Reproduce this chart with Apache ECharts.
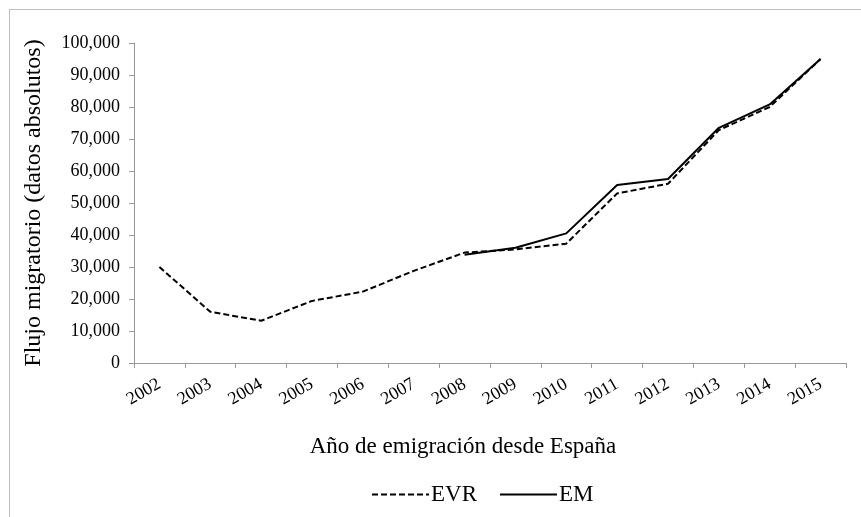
<!DOCTYPE html>
<html>
<head>
<meta charset="utf-8">
<script src="https://cdn.jsdelivr.net/npm/echarts@6/dist/echarts.min.js"></script>
<style>
html,body{margin:0;padding:0;background:#fff;}
#chart{width:861px;height:517px;}
</style>
</head>
<body>
<div id="chart"></div>
<script>
var years = ['2002','2003','2004','2005','2006','2007','2008','2009','2010','2011','2012','2013','2014','2015'];
var evr = [30000, 16000, 13200, 19400, 22300, 28800, 34500, 35500, 37300, 53000, 56000, 72800, 80000, 95000];
var em = [null, null, null, null, null, null, 33800, 36000, 40500, 55600, 57500, 73500, 80800, 95000];
var seriesNames = ['EVR', 'EM'];
var yTitle = 'Flujo migratorio (datos absolutos)';
var xTitle = 'Año de emigración desde España';

var font = 'Liberation Serif';
var chart = echarts.init(document.getElementById('chart'));
chart.setOption({
  backgroundColor: '#fff',
  animation: false,
  textStyle: {fontFamily: font, color: '#000'},
  graphic: [
    {type: 'line', shape: {x1: 9, y1: 9.5, x2: 861, y2: 9.5}, style: {stroke: '#bdbdbd', lineWidth: 1}},
    {type: 'line', shape: {x1: 9.5, y1: 9, x2: 9.5, y2: 517}, style: {stroke: '#bdbdbd', lineWidth: 1}}
  ],
  grid: {left: 134, right: 15, top: 43, bottom: 154, containLabel: false},
  legend: {
    data: seriesNames,
    top: 478,
    left: 366,
    itemWidth: 57,
    itemHeight: 14,
    itemGap: 22,
    itemStyle: {opacity: 0},
    textStyle: {fontFamily: font, fontSize: 23, color: '#000', padding: [0, 0, 0, -3]}
  },
  xAxis: {
    type: 'category',
    data: years,
    boundaryGap: true,
    axisLine: {lineStyle: {color: '#999', width: 1}},
    axisTick: {show: true, length: 5, alignWithLabel: false, lineStyle: {color: '#999'}},
    axisLabel: {rotate: 30, margin: 20, fontFamily: font, fontSize: 18, color: '#000', interval: 0},
    name: xTitle,
    nameLocation: 'middle',
    nameGap: 72,
    nameTextStyle: {fontFamily: font, fontSize: 23, color: '#000', padding: [0, 54, 0, 0]}
  },
  yAxis: {
    type: 'value',
    min: 0,
    max: 100000,
    interval: 10000,
    axisLine: {show: true, lineStyle: {color: '#999', width: 1}},
    axisTick: {show: true, length: 5, lineStyle: {color: '#999'}},
    splitLine: {show: false},
    axisLabel: {
      margin: 14,
      fontFamily: font,
      fontSize: 18,
      color: '#000',
      formatter: function (v) { return v.toLocaleString('en-US'); }
    },
    name: yTitle,
    nameLocation: 'middle',
    nameGap: 88,
    nameTextStyle: {fontFamily: font, fontSize: 24, color: '#000'}
  },
  series: [
    {
      name: seriesNames[0],
      type: 'line',
      data: evr,
      symbol: 'none',
      lineStyle: {color: '#000', width: 2, type: [6, 3]},
      itemStyle: {color: '#000'}
    },
    {
      name: seriesNames[1],
      type: 'line',
      data: em,
      symbol: 'none',
      connectNulls: false,
      lineStyle: {color: '#000', width: 2, type: 'solid'},
      itemStyle: {color: '#000'}
    }
  ]
});
</script>
</body>
</html>
